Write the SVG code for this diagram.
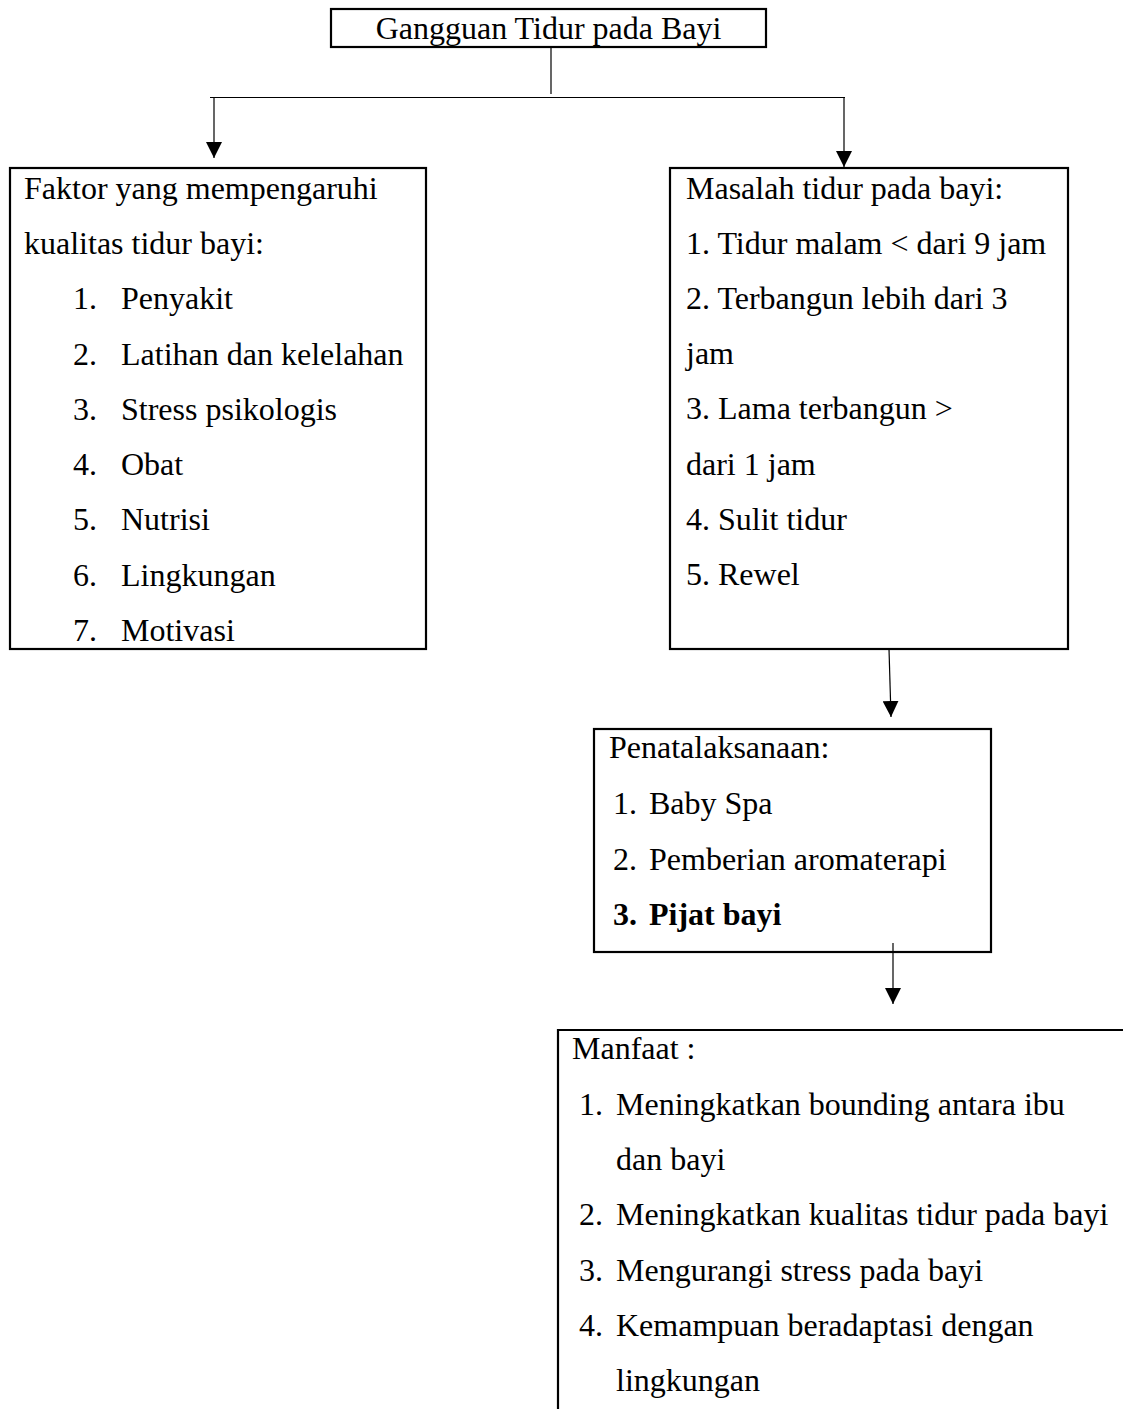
<svg xmlns="http://www.w3.org/2000/svg" width="1123" height="1409" viewBox="0 0 1123 1409">
<defs>
<marker id="arr" markerUnits="userSpaceOnUse" markerWidth="16" markerHeight="16" refX="15" refY="7.5" orient="auto" viewBox="0 0 15 15">
<path d="M0,0 L15,7.5 L0,15 Z" fill="#000"/>
</marker>
</defs>
<style>
text{font-family:"Liberation Serif","Times New Roman",serif;font-size:32px;fill:#000}
.box{fill:none;stroke:#000;stroke-width:2.2}
.ln{fill:none;stroke:#000;stroke-width:1.2}
.ar{fill:none;stroke:#000;stroke-width:1.2;marker-end:url(#arr)}
.b{font-weight:bold}
</style>
<rect width="1123" height="1409" fill="#fff"/>
<g id="connectors">
<line class="ln" x1="551" y1="47" x2="551" y2="94"/>
<line class="ln" x1="210" y1="97.5" x2="845" y2="97.5" stroke="#333" stroke-width="1.5"/>
<line class="ar" x1="214" y1="97" x2="214" y2="158"/>
<line class="ar" x1="844" y1="97" x2="844" y2="167"/>
<line class="ar" x1="889" y1="649" x2="891" y2="717"/>
<line class="ar" x1="893" y1="943" x2="893" y2="1004"/>
</g>
<g id="node-root">
<rect class="box" x="331" y="9" width="435" height="38"/>
<text x="548.5" y="39" text-anchor="middle">Gangguan Tidur pada Bayi</text>
</g>
<g id="node-faktor">
<rect class="box" x="10" y="168" width="416" height="481"/>
<text x="24" y="199">Faktor yang mempengaruhi</text>
<text x="24" y="254">kualitas tidur bayi:</text>
<text x="73" y="309">1.</text><text x="121" y="309">Penyakit</text>
<text x="73" y="364.5">2.</text><text x="121" y="364.5">Latihan dan kelelahan</text>
<text x="73" y="420">3.</text><text x="121" y="420">Stress psikologis</text>
<text x="73" y="475">4.</text><text x="121" y="475">Obat</text>
<text x="73" y="530">5.</text><text x="121" y="530">Nutrisi</text>
<text x="73" y="585.5">6.</text><text x="121" y="585.5">Lingkungan</text>
<text x="73" y="641">7.</text><text x="121" y="641">Motivasi</text>
</g>
<g id="node-masalah">
<rect class="box" x="670" y="168" width="398" height="481"/>
<text x="686" y="198.5">Masalah tidur pada bayi:</text>
<text x="686" y="253.7">1. Tidur malam &lt; dari 9 jam</text>
<text x="686" y="308.9">2. Terbangun lebih dari 3</text>
<text x="686" y="364.1">jam</text>
<text x="686" y="419.3">3. Lama terbangun &gt;</text>
<text x="686" y="474.5">dari 1 jam</text>
<text x="686" y="529.7">4. Sulit tidur</text>
<text x="686" y="584.9">5. Rewel</text>
</g>
<g id="node-penatalaksanaan">
<rect class="box" x="594" y="729" width="397" height="223"/>
<text x="609" y="758">Penatalaksanaan:</text>
<text x="613" y="814">1.</text><text x="649" y="814">Baby Spa</text>
<text x="613" y="870">2.</text><text x="649" y="870">Pemberian aromaterapi</text>
<text class="b" x="613" y="925">3.</text><text class="b" x="649" y="925">Pijat bayi</text>
</g>
<g id="node-manfaat">
<path class="box" d="M1124,1030 H558 V1410"/>
<text x="572" y="1059">Manfaat :</text>
<text x="579" y="1115">1.</text><text x="616" y="1115">Meningkatkan bounding antara ibu</text>
<text x="616" y="1170">dan bayi</text>
<text x="579" y="1225">2.</text><text x="616" y="1225">Meningkatkan kualitas tidur pada bayi</text>
<text x="579" y="1281">3.</text><text x="616" y="1281">Mengurangi stress pada bayi</text>
<text x="579" y="1336">4.</text><text x="616" y="1336">Kemampuan beradaptasi dengan</text>
<text x="616" y="1391">lingkungan</text>
</g>
</svg>
